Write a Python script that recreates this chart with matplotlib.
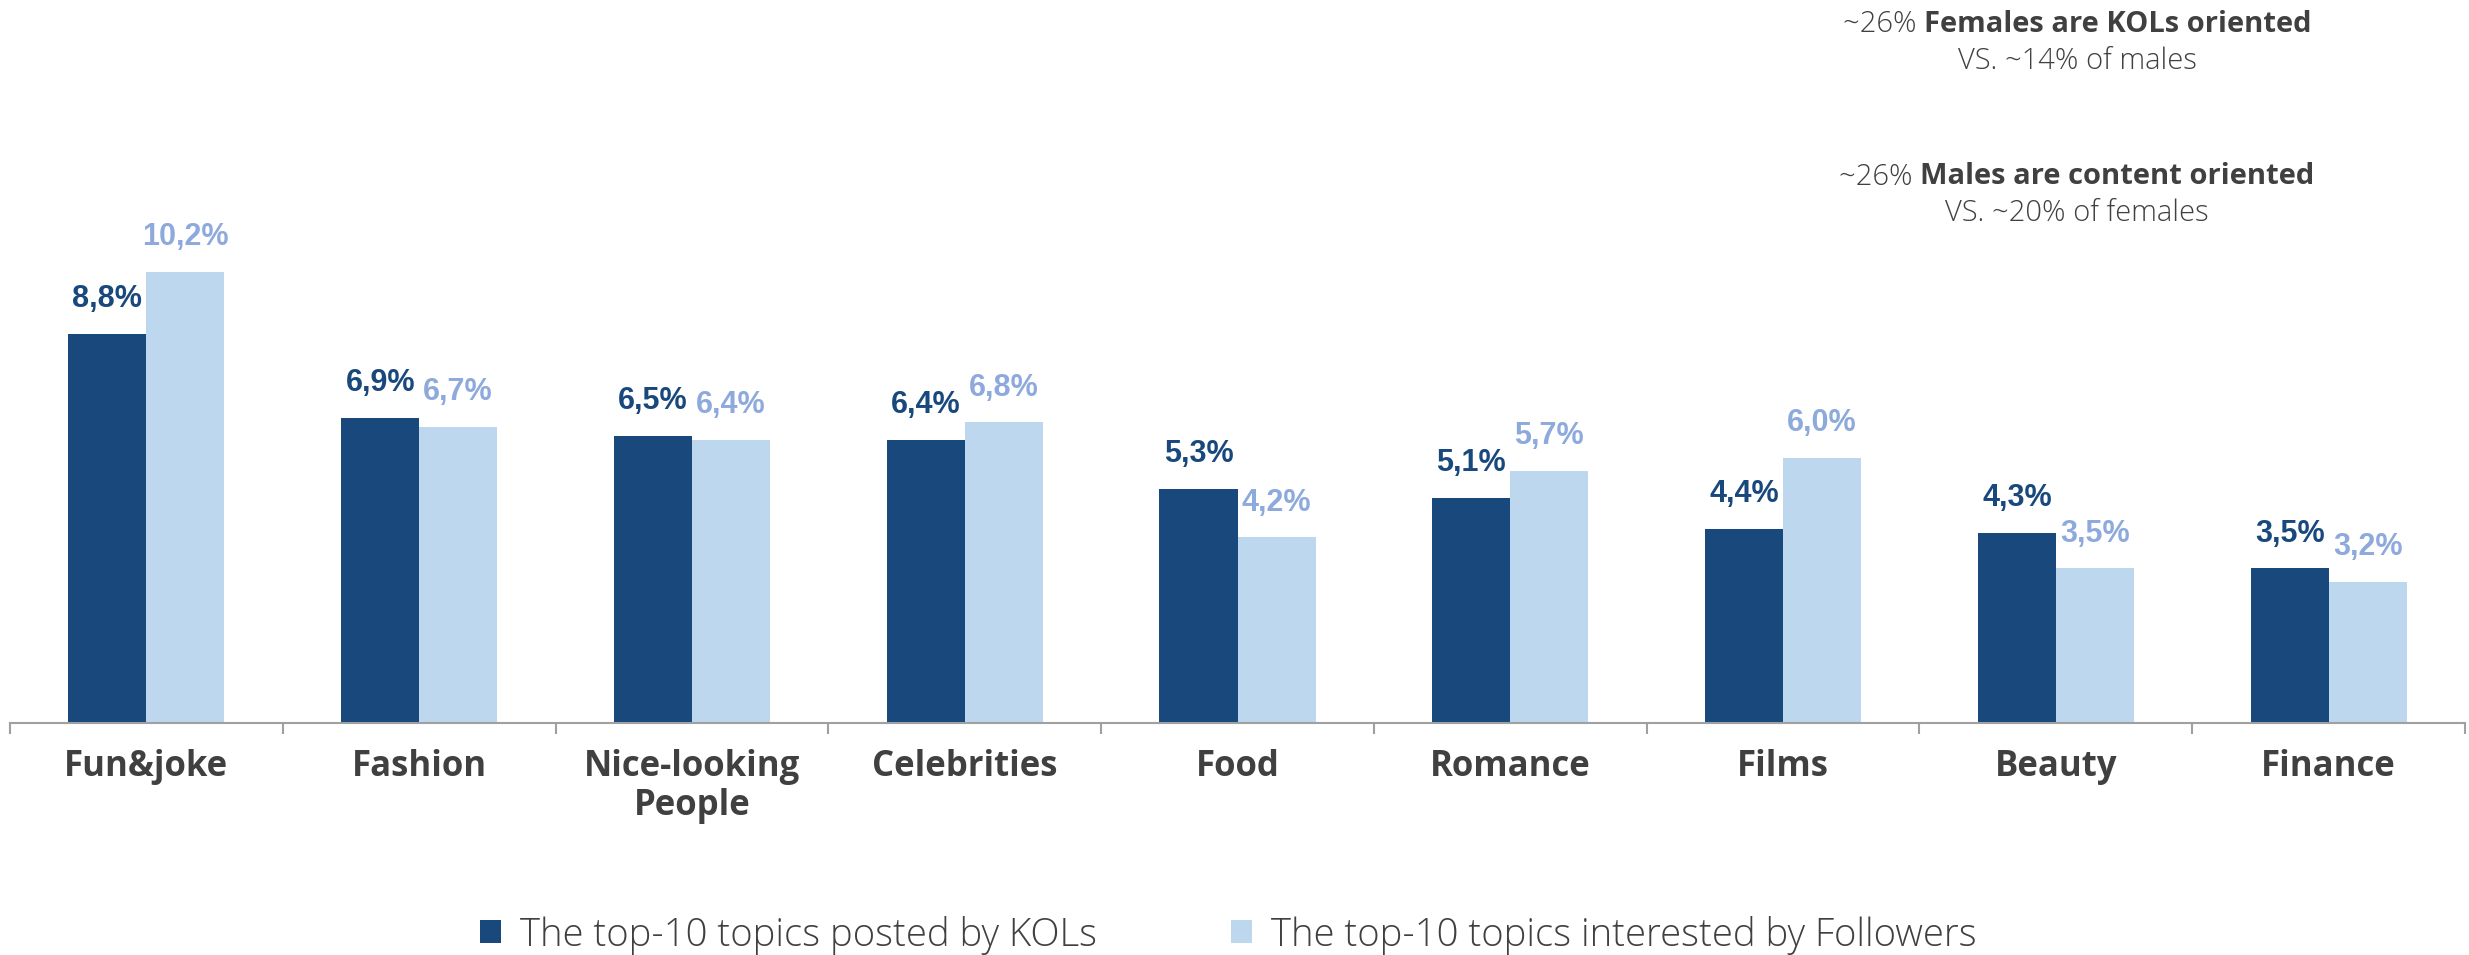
import matplotlib
matplotlib.use("Agg")
import matplotlib.pyplot as plt
import numpy as np

# Topic data (%)
categories = ["Fun&joke", "Fashion", "Nice-looking\nPeople", "Celebrities", "Food",
              "Romance", "Films", "Beauty", "Finance"]
kol_posts = [8.8, 6.9, 6.5, 6.4, 5.3, 5.1, 4.4, 4.3, 3.5]
follower_interest = [10.2, 6.7, 6.4, 6.8, 4.2, 5.7, 6.0, 3.5, 3.2]
series_names = ["The top-10 topics posted by KOLs", "The top-10 topics interested by Followers"]

notes = [
    ("~26% ", "Females are KOLs oriented", "VS. ~14% of males"),
    ("~26% ", "Males are content oriented", "VS. ~20% of females"),
]

DARK = "#19497c"
LIGHT = "#bdd7ee"
LIGHT_TEXT = "#8eaadc"
GREY_TEXT = "#404040"

W, H, DPI = 2469, 955, 100
fig = plt.figure(figsize=(W / DPI, H / DPI), dpi=DPI)
ax = fig.add_axes([10 / W, 1 - 723 / H, 2455 / W, 723 / H])

x = np.arange(len(categories))
bw = 0.286
b1 = ax.bar(x - bw / 2, kol_posts, bw, color=DARK, label=series_names[0])
b2 = ax.bar(x + bw / 2, follower_interest, bw, color=LIGHT, label=series_names[1])

ax.set_xlim(-0.5, len(categories) - 0.5)
ax.set_ylim(0, 723 / 44.2)

for s in ["top", "right", "left"]:
    ax.spines[s].set_visible(False)
ax.spines["bottom"].set_color("#a0a0a0")
ax.spines["bottom"].set_linewidth(1.5)
ax.set_yticks([])
ax.set_xticks(np.arange(len(categories) + 1) - 0.5)
ax.set_xticklabels([])
ax.tick_params(axis="x", length=8, width=1.5, color="#a0a0a0", direction="out")

label_font = ["Liberation Sans Narrow", "Liberation Sans", "DejaVu Sans"]
for xi, v in zip(x, kol_posts):
    ax.annotate(f"{v:.1f}%".replace(".", ","), xy=(xi - bw / 2, v), xytext=(0, 25),
                textcoords="offset points", ha="center", va="center",
                fontsize=22, fontweight="bold", color=DARK, family=label_font)
for xi, v in zip(x, follower_interest):
    ax.annotate(f"{v:.1f}%".replace(".", ","), xy=(xi + bw / 2, v), xytext=(0, 25),
                textcoords="offset points", ha="center", va="center",
                fontsize=22, fontweight="bold", color=LIGHT_TEXT, family=label_font)

for xi, cat in zip(x, categories):
    ax.annotate(cat, xy=(xi, 0), xytext=(0, -19), textcoords="offset points",
                ha="center", va="top", fontsize=25, fontweight="bold",
                color=GREY_TEXT, family=["Open Sans", "DejaVu Sans"],
                linespacing=1.1)

fig.legend(handles=[b1, b2], labels=series_names, loc="center",
           bbox_to_anchor=(1228 / W, 1 - 935 / H), ncol=2, frameon=False,
           handlelength=0.55, handleheight=0.55, handletextpad=0.5,
           columnspacing=3.5,
           prop={"family": "Open Sans", "weight": "light", "size": 27.5})
for t in fig.legends[0].get_texts():
    t.set_color(GREY_TEXT)

# Side notes: light prefix + bold statement, then a comparison line
line_y = [(24, 61), (177, 213)]
head_parts = []
for (prefix, bold, sub), (y1, y2) in zip(notes, line_y):
    t1 = fig.text(2077 / W, 1 - y1 / H, prefix, ha="left", va="center", fontsize=21,
                  color=GREY_TEXT, family="Open Sans", fontweight="light")
    t2 = fig.text(2077 / W, 1 - y1 / H, bold, ha="left", va="center", fontsize=21,
                  color=GREY_TEXT, family="Open Sans", fontweight="bold")
    head_parts.append((t1, t2, 1 - y1 / H))
    fig.text(2077 / W, 1 - y2 / H, sub, ha="center", va="center", fontsize=21,
             color=GREY_TEXT, family="Open Sans", fontweight="light")

fig.canvas.draw()
r = fig.canvas.get_renderer()
for t1, t2, yy in head_parts:
    w1 = t1.get_window_extent(r).width
    w2 = t2.get_window_extent(r).width
    left = 2077 - (w1 + w2) / 2
    t1.set_position((left / W, yy))
    t2.set_position(((left + w1) / W, yy))

fig.savefig("out.png", dpi=DPI)
